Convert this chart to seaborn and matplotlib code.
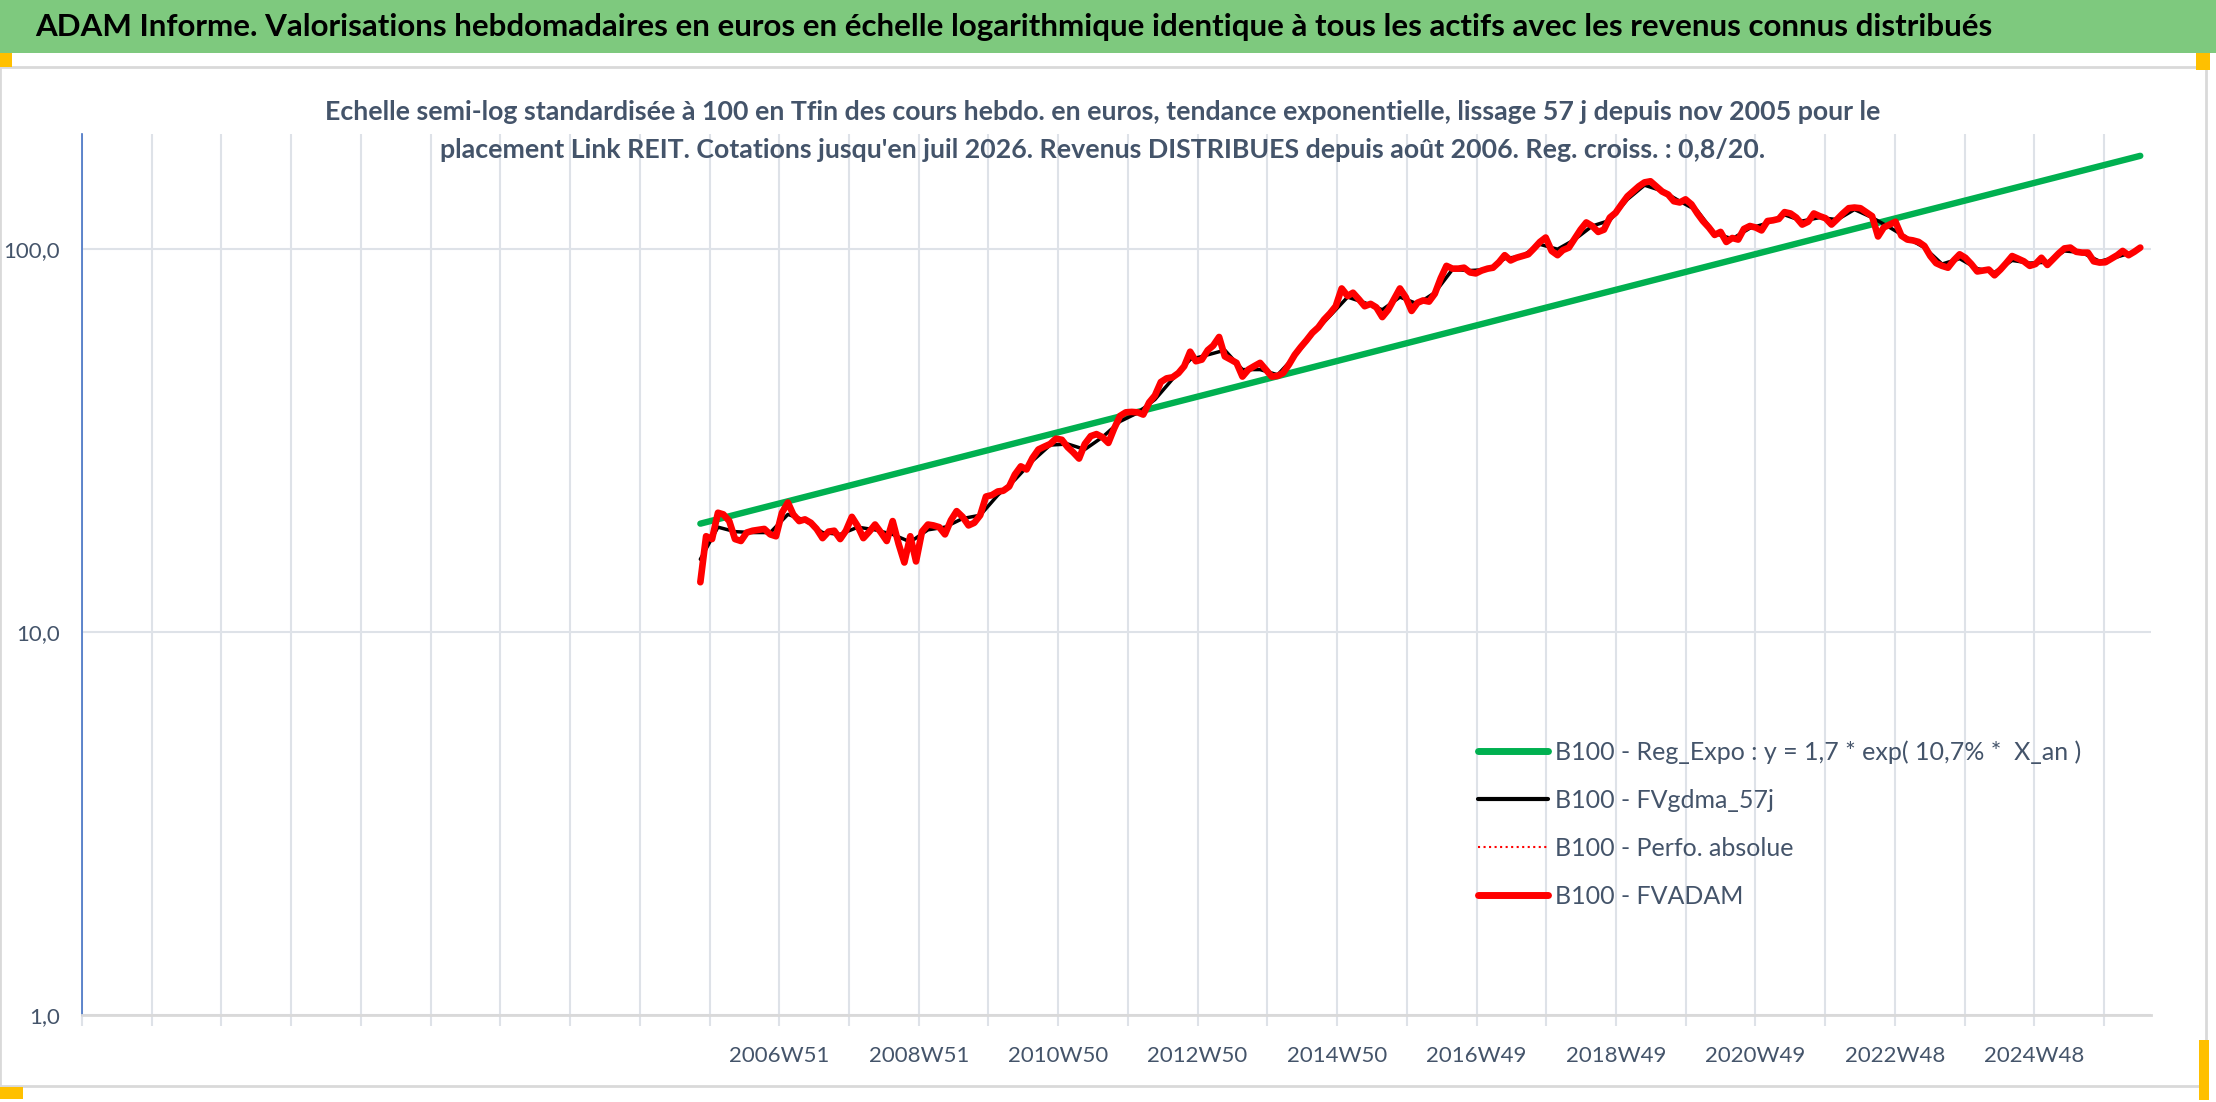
import datetime as dt
import pandas as pd
import matplotlib.pyplot as plt
import seaborn as sns
from matplotlib.lines import Line2D
from matplotlib.patches import Rectangle

# ------------------------------------------------------------
# Data
# ------------------------------------------------------------

# weekly category axis (first category = 1997W01)
axis_start = "1996-12-30"
n_weeks = 1543

tick_labels = ["2006W51", "2008W51", "2010W50", "2012W50", "2014W50",
               "2016W49", "2018W49", "2020W49", "2022W48", "2024W48"]
y_ticks = [1, 10, 100]
y_tick_labels = ["1,0", "10,0", "100,0"]

# B100 - FVADAM : one value per month from nov 2005
fvadam_start = "2005-11-01"
fvadam = [
    13.5, 17.8, 17.5, 20.5, 20.3, 19.5, 17.5, 17.3, 18.2, 18.4,
    18.5, 18.6, 18.0, 17.8, 20.5, 21.8, 20.3, 19.5, 19.7, 19.3,
    18.6, 17.6, 18.3, 18.4, 17.5, 18.4, 20.0, 18.9, 17.6, 18.3,
    19.1, 18.2, 17.3, 19.5, 17.0, 15.2, 17.8, 15.3, 18.3, 19.1,
    19.0, 18.8, 18.0, 19.6, 20.7, 20.0, 19.0, 19.3, 20.2, 22.6,
    22.8, 23.3, 23.4, 24.0, 25.8, 27.1, 26.6, 28.5, 30.0, 30.5,
    31.0, 32.0, 31.8, 30.4, 29.5, 28.4, 31.0, 32.5, 32.9, 32.3,
    31.2, 34.0, 36.7, 37.5, 37.6, 37.5, 37.0, 39.8, 41.5, 45.0,
    46.0, 46.3, 47.5, 49.5,
    54.0, 51.0, 51.5, 54.5, 56.0, 59.0, 52.5, 51.5, 50.5, 46.5,
    48.5, 49.5, 50.5, 48.5, 46.5, 46.7, 47.5, 50.0, 53.0, 55.5,
    57.8, 60.5, 62.5, 65.5, 68.0, 71.0, 79.0, 75.5, 77.0, 74.0,
    71.0, 72.0, 70.5, 66.5, 69.5, 74.0, 79.0, 75.0, 69.0, 72.5,
    73.5, 73.0, 76.5, 84.0, 90.5, 89.0, 89.0, 89.5, 87.0, 86.5,
    88.0, 89.0, 89.5, 92.5, 96.5, 93.5, 95.0, 96.0, 97.0, 100.5,
    104.5, 107.3, 99.0, 96.5, 99.5, 101.0, 106.5, 112.5, 117.5, 115.0,
    111.0, 112.5, 121.0, 124.5, 131.0, 137.5, 141.5, 146.0, 149.5,
    150.5, 146.0, 141.5, 139.0, 133.5, 132.5, 135.0, 131.0, 124.0, 118.5,
    114.0, 109.0, 111.0, 104.5, 107.0, 106.0, 113.0, 115.0, 114.0, 112.0,
    118.5, 119.0, 120.0, 125.0, 124.0, 121.0, 116.0, 118.0, 124.0, 122.0,
    120.5, 116.0, 120.0, 124.0, 128.0, 128.5, 128.0, 125.0, 122.0, 108.0,
    114.0, 116.0, 118.0, 108.5, 106.0, 105.5, 104.5, 102.0, 96.0, 92.0,
    90.5, 89.5, 93.5, 97.0, 95.0, 91.5, 87.5, 88.0, 88.5, 85.5,
    88.5, 92.0, 96.0, 94.5, 93.0, 90.5, 91.5, 95.0, 91.0, 94.0,
    97.5, 100.5, 101.0, 98.5, 98.0, 98.0, 93.0, 92.3, 92.5, 94.5,
    96.5, 99.0, 96.5, 98.5, 101.0,
]

# B100 - FVgdma_57j : one value per quarter from nov 2005
fvgdma_start = "2005-11-01"
fvgdma = [
    15.5, 18.8, 18.3, 18.2, 18.2, 20.3, 19.6, 18.2, 18.0, 18.8,
    18.5, 18.0, 17.2, 18.5, 18.8, 19.8, 20.2, 22.8, 25.0, 28.0,
    30.8, 31.0, 30.0, 32.3, 35.5, 37.4, 40.5, 45.8, 51.5, 53.0,
    54.5, 48.5, 48.5, 47.0, 52.5, 60.0, 67.0, 75.0, 72.5, 69.5,
    75.0, 72.0, 77.0, 88.5, 88.0, 88.5, 94.5, 96.0, 103.0, 100.0,
    106.0, 115.0, 119.0, 135.0, 147.0, 142.0, 133.5, 126.0, 110.0, 106.5,
    113.5, 117.0, 123.0, 118.5, 121.0, 119.5, 127.0, 121.0, 114.0, 107.0,
    101.0, 91.5, 94.5, 89.0, 87.0, 93.5, 92.0, 92.5, 99.0, 98.0,
    93.0, 95.5, 98.5,
]

# B100 - Reg_Expo : values at the first and last dates
reg_expo = [19.2, 175.4]

labels = ["B100 - Reg_Expo : y = 1,7 * exp( 10,7% *  X_an )",
          "B100 - FVgdma_57j",
          "B100 - Perfo. absolue",
          "B100 - FVADAM"]

title = ("ADAM Informe. Valorisations hebdomadaires en euros en échelle "
         "logarithmique identique à tous les actifs avec les revenus connus distribués")
subtitle = ("Echelle semi-log standardisée à 100 en Tfin des cours hebdo. en euros, "
            "tendance exponentielle, lissage 57 j depuis nov 2005 pour le\n"
            "placement Link REIT. Cotations jusqu'en juil 2026. Revenus DISTRIBUES "
            "depuis août 2006. Reg. croiss. : 0,8/20.")

# ------------------------------------------------------------
# Convert dates to week positions on the category axis
# ------------------------------------------------------------
t0 = pd.Timestamp(axis_start)


def week_pos(dates):
    return (pd.DatetimeIndex(dates) - t0).days / 7.0


red_dates = pd.date_range(fvadam_start, periods=len(fvadam), freq="MS")
blk_dates = pd.date_range(fvgdma_start, periods=len(fvgdma), freq="3MS")
df_red = pd.DataFrame({"x": week_pos(red_dates), "y": fvadam})
df_blk = pd.DataFrame({"x": week_pos(blk_dates), "y": fvgdma})
df_reg = pd.DataFrame({"x": week_pos([red_dates[0], red_dates[-1]]), "y": reg_expo})

label_pos = []
for lab in tick_labels:
    y, w = lab.split("W")
    d = dt.date.fromisocalendar(int(y), int(w), 1)
    label_pos.append((pd.Timestamp(d) - t0).days / 7.0)
grid_pos = list(range(int(label_pos[0]) % 52, n_weeks, 52))
grid_labels = [tick_labels[label_pos.index(p)] if p in label_pos else "" for p in grid_pos]

# ------------------------------------------------------------
# Figure
# ------------------------------------------------------------
sns.set_theme(style="white")
plt.rcParams["font.family"] = ["Lato", "DejaVu Sans"]

W, H = 2216, 1102
fig = plt.figure(figsize=(W / 100, H / 100), dpi=100)
ax = fig.add_axes([82 / W, 1 - 1015 / H, (2151 - 82) / W, (1015 - 134) / H])

text_col = "#44546A"
grid_col = "#DEE2E8"

sns.lineplot(data=df_reg, x="x", y="y", ax=ax, color="#00B050", linewidth=4.6, zorder=3)
sns.lineplot(data=df_blk, x="x", y="y", ax=ax, color="black", linewidth=2.5, zorder=4)
sns.lineplot(data=df_red, x="x", y="y", ax=ax, color="#FF0000", linewidth=1.0,
             linestyle=":", zorder=5)
sns.lineplot(data=df_red, x="x", y="y", ax=ax, color="#FF0000", linewidth=4.8, zorder=6)

ax.set_yscale("log")
ax.set_ylim(1, 200)
ax.set_xlim(0, n_weeks)
ax.set_yticks(y_ticks)
ax.set_yticklabels(y_tick_labels)
ax.yaxis.set_minor_locator(plt.NullLocator())
ax.set_xticks(grid_pos)
ax.set_xticklabels(grid_labels)
ax.set_xlabel("")
ax.set_ylabel("")

ax.grid(True, axis="both", color=grid_col, linewidth=1.5, zorder=0)
ax.set_axisbelow(True)
for s in ["top", "right"]:
    ax.spines[s].set_visible(False)
ax.spines["left"].set_color("#4472C4")
ax.spines["left"].set_linewidth(1.2)
ax.spines["bottom"].set_color("#D9D9D9")
ax.spines["bottom"].set_linewidth(2)
ax.tick_params(axis="x", length=8, width=1.5, color=grid_col, labelsize=16,
               labelcolor=text_col, pad=14, bottom=True)
ax.tick_params(axis="y", length=0, labelsize=16, labelcolor=text_col, pad=16)

handles = [Line2D([], [], color="#00B050", linewidth=5),
           Line2D([], [], color="black", linewidth=3),
           Line2D([], [], color="#FF0000", linewidth=1.5, linestyle=":"),
           Line2D([], [], color="#FF0000", linewidth=5)]
ax.legend(handles, labels, loc="upper left", bbox_to_anchor=(1455 / W, 1 - 718 / H),
          bbox_transform=fig.transFigure, frameon=False, fontsize=18,
          labelcolor=text_col, handlelength=2.8, handletextpad=0.3, labelspacing=1.0)

# title band and chart frame
fig.patches.append(Rectangle((0, 1 - 53 / H), 1, 53 / H, transform=fig.transFigure,
                             facecolor="#7EC97E", edgecolor="none", zorder=0))
fig.patches.append(Rectangle((0, 1 - 1086 / H), 2206 / W, (1086 - 67) / H,
                             transform=fig.transFigure, facecolor="none",
                             edgecolor="#D9D9D9", linewidth=2, zorder=0))
for (x0, y0, w, h) in [(0, 53, 12, 14), (2196, 53, 14, 17), (0, 1087, 23, 12), (2199, 1040, 10, 60)]:
    fig.patches.append(Rectangle((x0 / W, 1 - (y0 + h) / H), w / W, h / H,
                                 transform=fig.transFigure, facecolor="#FFC000",
                                 edgecolor="none", zorder=1))

fig.text(35 / W, 1 - 27 / H, title, ha="left", va="center", fontsize=22.5,
         fontweight="bold", color="black")
fig.text(1103 / W, 1 - 131 / H, subtitle, ha="center", va="center", fontsize=19.3,
         fontweight="bold", color=text_col, linespacing=1.75)

fig.savefig("out.png", dpi=100)
